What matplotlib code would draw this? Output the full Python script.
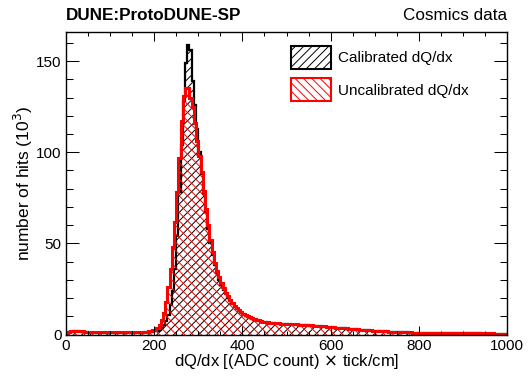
import numpy as np
import matplotlib
matplotlib.use("Agg")
import matplotlib.pyplot as plt
from matplotlib.patches import Patch
from matplotlib.ticker import MultipleLocator

plt.rcParams['font.family'] = ['Liberation Sans', 'DejaVu Sans']
plt.rcParams['hatch.linewidth'] = 0.7

# 5-unit bins from 0 to 1000, counts in units of 10^3 hits
bin_edges = np.arange(0, 1005, 5)

calibrated = [
    0.6, 1.2, 1.6, 1.8, 1.8, 1.7, 1.6, 1.4, 1.2, 1.1,
    1.0, 1.0, 0.9, 0.9, 0.9, 0.9, 0.9, 0.9, 0.9, 0.9,
    0.9, 0.9, 0.9, 0.9, 0.9, 0.9, 0.9, 0.9, 0.9, 0.9,
    0.9, 0.9, 0.9, 0.9, 1.0, 1.0, 1.1, 1.2, 1.3, 1.5,
    1.7, 2.1, 2.7, 3.6, 5.0, 7.2, 10.5, 16, 24, 36,
    54, 78, 104, 128, 149, 159, 156, 139, 126, 113,
    100, 88, 77, 67, 58, 50, 43.5, 38, 33.5, 30,
    27, 24.3, 22, 20, 18.2, 16.6, 15.2, 14, 12.9, 11.9,
    11.0, 10.3, 9.7, 9.1, 8.6, 8.2, 7.8, 7.4, 7.1, 6.9,
    6.7, 6.5, 6.3, 6.2, 6.1, 6.0, 5.9, 5.8, 5.7, 5.6,
    5.5, 5.5, 5.4, 5.4, 5.3, 5.3, 5.2, 5.2, 5.1, 5.0,
    4.9, 4.8, 4.7, 4.6, 4.5, 4.4, 4.3, 4.2, 4.1, 4.0,
    3.9, 3.8, 3.7, 3.6, 3.5, 3.4, 3.3, 3.2, 3.1, 3.0,
    2.9, 2.8, 2.7, 2.6, 2.5, 2.4, 2.3, 2.2, 2.1, 2.0,
    1.9, 1.85, 1.8, 1.7, 1.65, 1.6, 1.5, 1.45, 1.4, 1.35,
    1.3, 1.25, 1.2, 1.15, 1.1, 1.05, 1.0, 0.97, 0.94, 0.91,
    0.88, 0.86, 0.84, 0.82, 0.8, 0.78, 0.76, 0.74, 0.72, 0.71,
    0.7, 0.69, 0.68, 0.67, 0.66, 0.65, 0.64, 0.63, 0.62, 0.61,
    0.6, 0.59, 0.58, 0.57, 0.57, 0.56, 0.55, 0.55, 0.54, 0.54,
    0.53, 0.53, 0.52, 0.52, 0.51, 0.51, 0.5, 0.5, 0.5, 0.5,
]

uncalibrated = [
    0.8, 1.6, 2.0, 2.1, 2.1, 2.0, 1.9, 1.7, 1.5, 1.4,
    1.3, 1.3, 1.2, 1.2, 1.2, 1.1, 1.1, 1.1, 1.1, 1.1,
    1.1, 1.1, 1.1, 1.1, 1.1, 1.1, 1.1, 1.1, 1.2, 1.2,
    1.2, 1.2, 1.3, 1.3, 1.4, 1.5, 1.6, 1.8, 2.0, 2.3,
    2.6, 3.6, 5.2, 8, 12, 18, 26, 36, 48, 62,
    78, 97, 117, 131, 135, 135, 130, 125, 116, 106,
    98, 89, 79, 69, 60, 52, 45, 39.5, 35, 31.5,
    28.5, 25.5, 23, 21, 19, 17.3, 15.8, 14.5, 13.3, 12.3,
    11.4, 10.6, 10.0, 9.4, 8.9, 8.4, 8.0, 7.7, 7.4, 7.1,
    6.9, 6.7, 6.5, 6.4, 6.3, 6.2, 6.1, 6.0, 5.9, 5.8,
    5.7, 5.6, 5.6, 5.5, 5.5, 5.4, 5.4, 5.3, 5.3, 5.2,
    5.1, 5.0, 4.9, 4.8, 4.7, 4.6, 4.5, 4.4, 4.3, 4.2,
    4.1, 4.0, 3.8, 3.7, 3.6, 3.5, 3.4, 3.3, 3.2, 3.1,
    3.0, 2.9, 2.8, 2.7, 2.6, 2.5, 2.4, 2.3, 2.2, 2.1,
    2.0, 1.95, 1.9, 1.8, 1.75, 1.7, 1.6, 1.55, 1.5, 1.45,
    1.4, 1.35, 1.3, 1.25, 1.2, 1.15, 1.1, 1.05, 1.0, 0.98,
    0.95, 0.93, 0.9, 0.88, 0.86, 0.84, 0.82, 0.8, 0.78, 0.77,
    0.76, 0.74, 0.73, 0.72, 0.7, 0.69, 0.68, 0.67, 0.66, 0.65,
    0.64, 0.63, 0.62, 0.61, 0.6, 0.6, 0.59, 0.58, 0.58, 0.57,
    0.56, 0.56, 0.55, 0.55, 0.54, 0.54, 0.53, 0.53, 0.52, 0.52,
]

labels = ['Calibrated dQ/dx', 'Uncalibrated dQ/dx']

fig = plt.figure(figsize=(5.31, 3.76), dpi=100)
ax = fig.add_axes([66 / 531, 1 - 334.5 / 376, (507 - 66) / 531, (334.5 - 32) / 376])

# hatched fills first, outlines on top
ax.stairs(calibrated, bin_edges, fill=True, facecolor='none', edgecolor='black',
          hatch='////', linewidth=0)
ax.stairs(calibrated, bin_edges, color='black', linewidth=1.6)
ax.stairs(uncalibrated, bin_edges, fill=True, facecolor='none', edgecolor='red',
          hatch='\\\\\\\\', linewidth=0)
ax.stairs(uncalibrated, bin_edges, color='red', linewidth=2.2)

ax.set_xlim(0, 1000)
ax.set_ylim(0, 166)
ax.xaxis.set_major_locator(MultipleLocator(200))
ax.xaxis.set_minor_locator(MultipleLocator(50))
ax.yaxis.set_major_locator(MultipleLocator(50))
ax.yaxis.set_minor_locator(MultipleLocator(10))
ax.tick_params(which='both', direction='in', top=True, right=True, width=0.75,
               labelsize=11)
ax.tick_params(axis='x', which='major', length=6.5, pad=3.5)
ax.tick_params(axis='x', which='minor', length=3.2)
ax.tick_params(axis='y', which='major', length=9.5, pad=3)
ax.tick_params(axis='y', which='minor', length=4.7)
for sp in ax.spines.values():
    sp.set_linewidth(1.0)

ax.set_xlabel('dQ/dx [(ADC count) $\\times$ tick/cm]', fontsize=12, labelpad=-1)
ax.set_ylabel('number of hits (10$^{3}$)', fontsize=12.5, labelpad=1)

handles = [
    Patch(facecolor='none', edgecolor='black', hatch='////', linewidth=1.5),
    Patch(facecolor='none', edgecolor='red', hatch='\\\\\\\\', linewidth=1.5),
]
ax.legend(handles, labels, loc='upper left', bbox_to_anchor=(291 / 531, 1 - 46 / 376),
          bbox_transform=fig.transFigure, frameon=False, fontsize=11,
          handlelength=2.6, handleheight=1.95, labelspacing=0.6,
          handletextpad=0.5, borderpad=0, borderaxespad=0)

fig.text(66 / 531, 1 - 15 / 376, 'DUNE:ProtoDUNE-SP', fontsize=12.3,
         fontweight='bold', ha='left', va='center')
fig.text(507 / 531, 1 - 15 / 376, 'Cosmics data', fontsize=12.3,
         ha='right', va='center')

fig.savefig('out.png', dpi=100)
